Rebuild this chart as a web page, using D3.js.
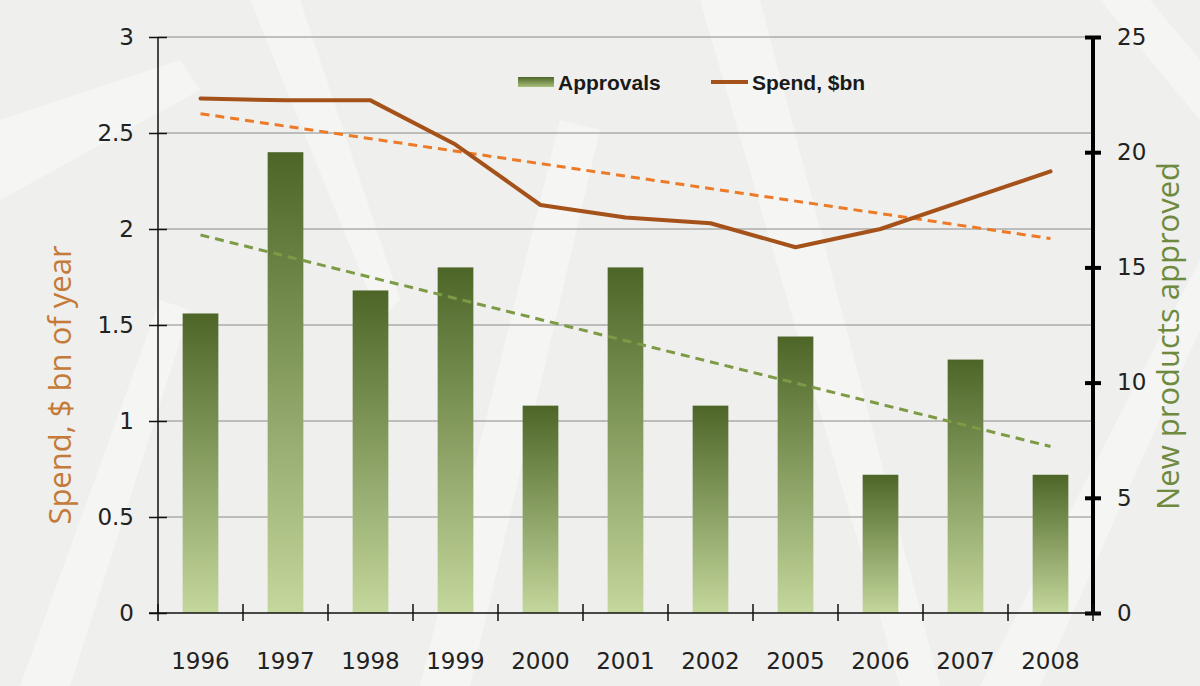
<!DOCTYPE html>
<html>
<head>
<meta charset="utf-8">
<script src="https://cdn.jsdelivr.net/npm/d3@7"></script>
<style>
  body { margin: 0; background: #f1f1ef; }
  svg { display: block; }
</style>
</head>
<body>
<svg></svg>
<script>
// data
const years = ["1996", "1997", "1998", "1999", "2000", "2001", "2002", "2005", "2006", "2007", "2008"];
const approvals = [13, 20, 14, 15, 9, 15, 9, 12, 6, 11, 6];
const spend = [2.68, 2.67, 2.67, 2.44, 2.125, 2.06, 2.03, 1.905, 2.0, 2.15, 2.30];
const leftTicks = [0, 0.5, 1, 1.5, 2, 2.5, 3];
const rightTicks = [0, 5, 10, 15, 20, 25];

const width = 1200;
const height = 686;
const plotLeft = 158, plotRight = 1093, plotTop = 37, plotBottom = 613;

const svg = d3.select("svg")
  .attr("width", width)
  .attr("height", height);

// background texture
const bg = svg.append("g");
bg.append("rect").attr("width", width).attr("height", height).attr("fill", "#efefed");
const streaks = [
  [[0, 120], [180, 60], [200, 90], [0, 200]],
  [[20, 686], [160, 300], [190, 310], [70, 686]],
  [[420, 686], [560, 120], [600, 130], [470, 686]],
  [[700, 0], [900, 686], [940, 686], [760, 0]],
  [[980, 686], [1200, 260], [1200, 330], [1040, 686]],
  [[1100, 0], [1200, 120], [1200, 60], [1150, 0]],
  [[250, 0], [380, 320], [400, 300], [300, 0]]
];
bg.selectAll("polygon").data(streaks).enter().append("polygon")
  .attr("points", d => d.map(p => p.join(",")).join(" "))
  .attr("fill", "#ffffff")
  .attr("opacity", 0.4);

// scales
const x = d3.scaleBand().domain(years).range([plotLeft, plotRight]).paddingInner(0.58).paddingOuter(0.29);
const xEdge = d3.scaleLinear().domain([0, years.length]).range([plotLeft, plotRight]);
const yL = d3.scaleLinear().domain([0, 3]).range([plotBottom, plotTop]);
const yR = d3.scaleLinear().domain([0, 25]).range([plotBottom, plotTop]);

// gradient for bars
const defs = svg.append("defs");
const grad = defs.append("linearGradient").attr("id", "barGrad")
  .attr("x1", 0).attr("y1", 0).attr("x2", 0).attr("y2", 1);
grad.append("stop").attr("offset", "0%").attr("stop-color", "#4d6628");
grad.append("stop").attr("offset", "100%").attr("stop-color", "#c4d79c");
const lgGrad = defs.append("linearGradient").attr("id", "legGrad")
  .attr("x1", 0).attr("y1", 0).attr("x2", 0).attr("y2", 1);
lgGrad.append("stop").attr("offset", "0%").attr("stop-color", "#4d6628");
lgGrad.append("stop").attr("offset", "100%").attr("stop-color", "#a8c078");

// gridlines
svg.append("g")
  .selectAll("line")
  .data(leftTicks.slice(1))
  .enter().append("line")
  .attr("x1", plotLeft).attr("x2", plotRight)
  .attr("y1", d => yL(d)).attr("y2", d => yL(d))
  .attr("stroke", "#8a8a8a").attr("stroke-width", 1);

// bars
svg.append("g")
  .selectAll("rect")
  .data(approvals)
  .enter().append("rect")
  .attr("x", (d, i) => x(years[i]))
  .attr("y", d => yR(d))
  .attr("width", x.bandwidth())
  .attr("height", d => yR(0) - yR(d))
  .attr("fill", "url(#barGrad)");

// trend lines (least squares, like Excel's linear trendline)
function trend(vals) {
  const n = vals.length;
  const idx = d3.range(n);
  const mx = d3.mean(idx), my = d3.mean(vals);
  const sxy = d3.sum(idx, i => (i - mx) * (vals[i] - my));
  const sxx = d3.sum(idx, i => (i - mx) * (i - mx));
  const b = sxy / sxx, a = my - b * mx;
  return [a, a + b * (n - 1)];
}
const cx = i => x(years[i]) + x.bandwidth() / 2;

const tA = trend(approvals);
svg.append("line")
  .attr("x1", cx(0)).attr("x2", cx(years.length - 1))
  .attr("y1", yR(tA[0])).attr("y2", yR(tA[1]))
  .attr("stroke", "#7d9a45").attr("stroke-width", 3)
  .attr("stroke-dasharray", "9,6");

const tS = trend(spend);
svg.append("line")
  .attr("x1", cx(0)).attr("x2", cx(years.length - 1))
  .attr("y1", yL(tS[0])).attr("y2", yL(tS[1]))
  .attr("stroke", "#ec7a26").attr("stroke-width", 3)
  .attr("stroke-dasharray", "9,6");

// spend line
const line = d3.line()
  .x((d, i) => cx(i))
  .y(d => yL(d));
svg.append("path")
  .datum(spend)
  .attr("d", line)
  .attr("fill", "none")
  .attr("stroke", "#a4521a")
  .attr("stroke-width", 4)
  .attr("stroke-linejoin", "round")
  .attr("stroke-linecap", "round");

// axes
const tickFont = "'DejaVu Sans', Verdana, sans-serif";

const leftAxis = svg.append("g")
  .attr("transform", `translate(${plotLeft},0)`)
  .call(d3.axisLeft(yL).tickValues(leftTicks).tickSize(8).tickPadding(16).tickFormat(d3.format("")));
leftAxis.select(".domain").attr("stroke", "#111").attr("stroke-width", 1.5).attr("d", `M0,${plotTop}V${plotBottom}`);
leftAxis.selectAll(".tick line").attr("x1", -9).attr("x2", 9).attr("stroke", "#111").attr("stroke-width", 1.5);
leftAxis.selectAll("text").style("font-family", tickFont).style("font-size", "23px").attr("fill", "#222");

const rightAxis = svg.append("g")
  .attr("transform", `translate(${plotRight},0)`)
  .call(d3.axisRight(yR).tickValues(rightTicks).tickSize(8).tickPadding(16));
rightAxis.select(".domain").attr("stroke", "#000").attr("stroke-width", 4).attr("d", `M0,${plotTop}V${plotBottom}`);
rightAxis.selectAll(".tick line").attr("x1", -8).attr("x2", 8).attr("stroke", "#000").attr("stroke-width", 4);
rightAxis.selectAll("text").style("font-family", tickFont).style("font-size", "23px").attr("fill", "#222");

// x axis
const xAxis = svg.append("g").attr("transform", `translate(0,${plotBottom})`);
xAxis.append("line").attr("x1", plotLeft - 9).attr("x2", plotRight + 8).attr("stroke", "#111").attr("stroke-width", 1.5);
xAxis.selectAll(".edge")
  .data(d3.range(years.length + 1))
  .enter().append("line")
  .attr("class", "edge")
  .attr("x1", d => xEdge(d)).attr("x2", d => xEdge(d))
  .attr("y1", -9).attr("y2", 8)
  .attr("stroke", "#111").attr("stroke-width", 1.5);
xAxis.selectAll("text")
  .data(years)
  .enter().append("text")
  .attr("x", d => x(d) + x.bandwidth() / 2)
  .attr("y", 56)
  .attr("text-anchor", "middle")
  .style("font-family", tickFont).style("font-size", "23px")
  .attr("fill", "#222")
  .text(d => d);

// axis titles
svg.append("text")
  .attr("transform", `translate(71,385) rotate(-90)`)
  .attr("text-anchor", "middle")
  .style("font-family", "'Open Sans', sans-serif").style("font-size", "31px")
  .attr("fill", "#c47a38")
  .text("Spend, $ bn of year");

svg.append("text")
  .attr("transform", `translate(1179,336) rotate(-90)`)
  .attr("text-anchor", "middle")
  .style("font-family", "'Open Sans', sans-serif").style("font-size", "31px")
  .attr("fill", "#6e8a3e")
  .text("New products approved");

// legend
const legend = svg.append("g").attr("transform", "translate(518,82)");
legend.append("rect").attr("x", 0).attr("y", -5).attr("width", 36).attr("height", 10).attr("fill", "url(#legGrad)");
legend.append("text").attr("x", 40).attr("y", 8)
  .style("font-family", "'Liberation Sans', Arial, sans-serif").style("font-size", "21px").style("font-weight", "bold")
  .attr("fill", "#1a1a1a").text("Approvals");
legend.append("line").attr("x1", 193).attr("x2", 230).attr("y1", 0).attr("y2", 0)
  .attr("stroke", "#a4521a").attr("stroke-width", 4);
legend.append("text").attr("x", 234).attr("y", 8)
  .style("font-family", "'Liberation Sans', Arial, sans-serif").style("font-size", "21px").style("font-weight", "bold")
  .attr("fill", "#1a1a1a").text("Spend, $bn");
</script>
</body>
</html>
